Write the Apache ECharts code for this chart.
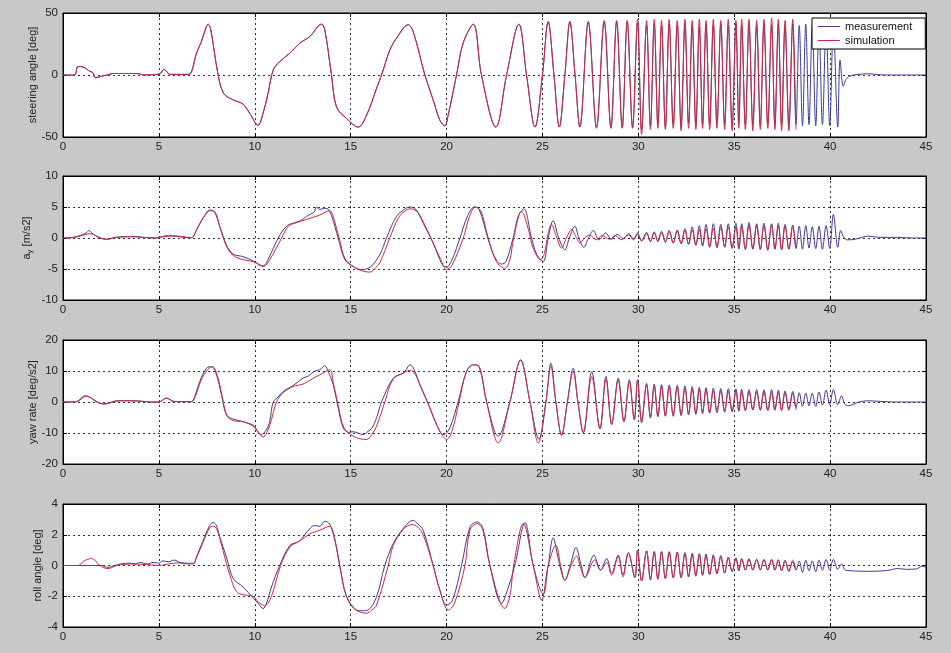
<!DOCTYPE html>
<html>
<head>
<meta charset="utf-8">
<script src="https://cdn.jsdelivr.net/npm/echarts@6/dist/echarts.min.js"></script>
<style>
html,body{margin:0;padding:0;background:#c8c8c8;}
#chart{width:951px;height:653px;}
</style>
</head>
<body>
<div id="chart"></div>
<script>
// ---------- DATA ----------
const xTicks = [0, 5, 10, 15, 20, 25, 30, 35, 40, 45];
const seriesNames = ['measurement', 'simulation'];
const yLabels = ['steering angle [deg]', 'a_y [m/s2]', 'yaw rate [deg/s2]', 'roll angle [deg]'];

// extremum times of the fast sweep part (peak, trough, peak, ...)
const hfT = [29.96,30.17,30.43,30.63,30.83,31.02,31.21,31.41,31.61,31.82,32.03,32.23,32.43,32.62,32.81,33.0,33.18,33.35,33.53,33.72,33.91,34.1,34.3,34.5,34.69,34.89,35.09,35.24,35.39,35.58,35.77,35.97,36.17,36.36,36.55,36.75,36.95,37.12,37.3,37.47,37.65,37.85,38.05,38.22,38.39,38.56,38.73,38.9,39.07,39.25,39.42,39.6,39.79,39.98,40.17,40.4];

// steering angle
const steerMeasLow = [[0,0],[0.6,0],[0.78,6.8],[1.04,6.5],[1.39,3],[1.55,2],[1.69,-2.2],[2.0,-1],[2.3,0],[2.6,1.2],[3.5,1.2],[4.0,1],[4.17,0],[4.9,0.5],[5.1,1.5],[5.25,4.5],[5.4,3],[5.57,0.5],[6.52,0.5],[6.7,2.5],[6.96,17.6],[7.22,27],[7.45,38],[7.57,41],[7.7,37],[8.09,0],[8.38,-14.9],[8.87,-20],[9.39,-23.5],[9.74,-31],[10.17,-40.5],[10.43,-31],[10.69,-15],[10.96,4],[11.3,10.8],[11.83,17.6],[12.35,25.7],[12.87,31],[13.48,41],[13.65,36.5],[14.0,0],[14.26,-25.7],[14.78,-35],[15.39,-42],[15.83,-32.4],[16.35,-10.8],[16.61,0],[17.04,20],[17.39,29.7],[18.0,40.5],[18.26,35],[18.87,0],[19.3,-20],[19.65,-36.5],[19.91,-41],[20.09,-32],[20.52,0],[20.87,26],[21.39,41],[21.82,0],[22.57,-42],[23.13,0],[23.77,41],[24.17,0],[24.61,-42],[25.0,0],[25.3,43],[25.6,0],[25.88,-42],[26.17,0],[26.43,43],[26.7,0],[26.95,-42],[27.39,43],[27.82,-42],[28.22,43],[28.57,-42],[28.87,43],[29.16,-42],[29.42,43],[29.7,-42]];
const steerSimLow = [[0,0],[0.6,0],[0.78,6.8],[1.04,6.5],[1.39,3],[1.55,2],[1.69,-2.2],[2.0,-1],[2.3,0],[2.6,1.2],[3.5,1.2],[4.0,1],[4.17,0],[4.9,0.5],[5.1,1.5],[5.25,4.5],[5.4,3],[5.57,0.5],[6.52,0.5],[6.7,2.5],[6.96,17.6],[7.22,27],[7.45,38],[7.57,41],[7.7,37],[8.09,0],[8.38,-14.9],[8.87,-20],[9.39,-23.5],[9.74,-31],[10.17,-40.5],[10.43,-31],[10.69,-15],[10.96,4],[11.3,10.8],[11.83,17.6],[12.35,25.7],[12.87,31],[13.48,41],[13.65,36.5],[14.0,0],[14.26,-25.7],[14.78,-35],[15.39,-42],[15.83,-32.4],[16.35,-10.8],[16.61,0],[17.04,20],[17.39,29.7],[18.0,40.5],[18.26,35],[18.87,0],[19.3,-20],[19.65,-36.5],[19.91,-41],[20.09,-32],[20.52,0],[20.87,26],[21.39,41],[21.82,0],[22.57,-42],[23.13,0],[23.77,41],[24.17,0],[24.61,-42],[25.0,0],[25.3,43],[25.6,0],[25.88,-42],[26.17,0],[26.43,43],[26.7,0],[26.95,-42],[27.39,43],[27.82,-43],[28.22,44],[28.57,-43],[28.87,44],[29.16,-43],[29.42,44],[29.7,-43]];
const steerMeasHF = [42,-44,40,-41,41,-40,40,-42,41,-40,40,-41,41,-39,40,-41,39,-40,41,-40,40,-39,41,-40,40,-41,41,-39,40,-40,41,-40,40,-41,41,-40,40,-41,41,-40,40,-40,41,-40,40,-41,41,-40,40,-41,40,-40,41,-41,40,-42];
const steerSimHF = [45,-48,44,-44,45,-43,44,-44,45,-43,44,-45,45,-43,44,-44,45,-43,44,-44,45,-43,44,-44,45,-45,44,-43,45,-44,45,-45,44,-44,45,-43,46,-44,45,-45,44,-45,45,-44];
const steerMeasTail = [[40.52,12],[40.69,-9],[40.85,-3],[41.1,-0.5],[41.5,0.5],[42,1],[42.5,0.3],[43,0],[45,0]];

// lateral acceleration a_y
const ayMeasLow = [[0,0],[0.5,0.1],[0.9,0.4],[1.2,0.8],[1.36,1.2],[1.5,0.8],[1.91,0],[2.3,-0.2],[2.7,0.1],[3.2,0.2],[3.8,0.25],[4.2,0.1],[4.8,0],[5.0,0.1],[5.5,0.4],[5.9,0.3],[6.3,0.1],[6.7,0.05],[6.96,1.3],[7.3,3.2],[7.65,4.5],[7.9,4.2],[8.17,1.9],[8.52,-1.1],[8.87,-2.6],[9.39,-3.0],[9.91,-3.7],[10.26,-4.3],[10.43,-4.5],[10.78,-2.9],[11.22,0],[11.65,1.9],[12.0,2.4],[12.4,2.8],[12.7,3.5],[13.1,4.2],[13.2,5.0],[13.4,4.6],[13.6,4.8],[13.8,4.7],[14.0,3.6],[14.35,0],[14.7,-3.5],[15.13,-4.6],[15.4,-5.0],[15.65,-5.1],[15.9,-4.9],[16.1,-4.5],[16.52,-2.7],[16.87,0],[17.39,3.5],[17.8,4.6],[18.09,5.0],[18.4,4.6],[18.78,2.4],[19.3,-0.8],[19.65,-3.5],[19.83,-4.5],[20.0,-4.7],[20.3,-3.4],[20.7,0],[21.1,3.6],[21.45,5.0],[21.7,4.6],[22.15,0],[22.5,-3],[22.87,-4.2],[23.1,-3.8],[23.47,0],[23.75,3.6],[24.03,4.7],[24.43,0],[24.7,-2.6],[25.04,-3.8],[25.3,0],[25.56,2.8],[25.85,0],[26.17,-1.9],[26.4,0],[26.69,1.9],[26.9,0],[27.16,-1.5],[27.4,0],[27.65,1.2],[27.95,-0.3],[28.3,0.8],[28.6,-0.2],[28.9,0.6],[29.2,-0.1],[29.5,0.7],[29.75,-0.2]];
const aySimLow = [[0,0],[0.5,0.05],[1.0,0.4],[1.4,0.7],[1.9,0.1],[2.3,-0.2],[2.8,0.1],[3.5,0.2],[4.2,0.1],[4.8,0],[5.5,0.3],[6.0,0.3],[6.7,0.05],[6.96,1.3],[7.3,3.2],[7.7,4.4],[7.95,4.1],[8.17,1.9],[8.52,-1.3],[8.87,-2.8],[9.39,-3.5],[9.91,-3.8],[10.26,-4.4],[10.45,-4.6],[10.78,-3.5],[11.4,0],[11.75,1.9],[12.1,2.4],[12.7,3.0],[13.39,3.7],[13.9,4.4],[14.05,3.8],[14.4,0],[14.7,-3.3],[15.13,-4.6],[15.6,-5.3],[16.0,-5.5],[16.3,-4.8],[16.52,-4],[17.04,0],[17.5,3.3],[17.9,4.5],[18.15,4.7],[18.5,4.1],[18.85,2.2],[19.3,-0.8],[19.7,-3.5],[20.0,-5.1],[20.3,-4.3],[20.87,0],[21.2,3.5],[21.5,5.0],[21.8,4.3],[22.17,0],[22.6,-3.8],[23.04,-4.9],[23.3,-3.5],[23.5,0],[23.91,4.3],[24.3,1.0],[24.5,-1.5],[24.9,-3.5],[25.1,-2.5],[25.3,0.8],[25.47,2.2],[25.7,0.5],[26.0,-1.6],[26.25,0],[26.52,1.35],[26.75,0.2],[26.95,-0.8],[27.2,0],[27.47,0.5],[27.8,-0.3],[28.1,0.4],[28.5,-0.2],[28.8,0.4],[29.1,-0.3],[29.5,0.5],[29.75,-0.3]];
const ayMeasHF = [0.8,-0.4,0.9,-0.6,1.0,-0.5,1.1,-0.7,1.2,-0.8,1.3,-0.9,1.5,-1.0,1.8,-1.2,2.0,-1.3,2.2,-1.5,2.3,-1.6,2.2,-1.5,2.3,-1.7,2.4,-1.8,2.3,-1.9,2.5,-1.8,2.3,-1.9,2.4,-2.0,2.3,-1.8,2.4,-1.9,2.2,-1.8,2.1,-1.7,1.9,-1.8,2.0,-1.6,1.8,-1.7,1.9,-1.8,2.0,-1.7,3.8,-1.5];
const aySimHF = [0.6,-0.5,0.7,-0.5,0.8,-0.6,0.9,-0.6,1.0,-0.8,1.1,-0.9,1.2,-1.0,1.3,-1.1,1.4,-1.2,1.5,-1.3,1.6,-1.4,1.7,-1.4,1.8,-1.5,1.8,-1.6,1.9,-1.7,2.0,-1.7,2.0,-1.8,2.0,-1.8,2.1,-1.8,2.0,-1.9,2.0,-1.8,1.9,-1.6];
const ayMeasTail = [[40.55,1.2],[40.7,0.2],[40.9,-0.3],[41.3,-0.2],[42,0.3],[42.6,0.1],[43.5,0.1],[44.3,0],[45,0]];

// yaw rate
const yawMeasLow = [[0,0],[0.7,0.1],[1.13,2.0],[1.4,1.6],[1.7,0.2],[2.09,-0.6],[2.4,-0.3],[2.8,0.4],[3.5,0.4],[4.0,0.3],[4.5,0],[5.0,0],[5.39,1.3],[5.8,0.2],[6.7,0.1],[6.87,1.8],[7.13,6.6],[7.48,10.9],[7.74,11.4],[8.0,8.8],[8.26,2.4],[8.52,-4.1],[8.87,-5.5],[9.2,-6.0],[9.39,-6.4],[9.91,-7.5],[10.35,-10.5],[10.6,-9],[10.78,-6.2],[10.96,0],[11.2,1.5],[11.48,3.4],[12.0,5.3],[12.52,7.7],[12.8,8.4],[13.1,9.9],[13.39,10.4],[13.65,11.7],[13.85,9.5],[14.09,5.6],[14.35,-1.9],[14.61,-8.3],[14.9,-9.8],[15.13,-9.6],[15.65,-10.5],[15.9,-9.5],[16.1,-8.5],[16.35,-5.1],[16.61,0],[17.22,7.7],[17.74,9.3],[17.9,10.5],[18.09,12],[18.3,10.5],[18.61,5.6],[19.13,-1.9],[19.48,-7.3],[19.83,-10.5],[20.0,-10.0],[20.2,-8],[20.6,0],[21.04,9.8],[21.39,12],[21.7,11.5],[22.09,0],[22.69,-11],[23.3,0],[23.86,13.6],[24.35,0],[24.82,-12],[25.18,0],[25.44,12.5],[25.7,0],[26.0,-10.7],[26.3,0],[26.6,10.9],[26.85,0],[27.13,-9.9],[27.57,9.8],[28.0,-8.6],[28.31,8.2],[28.61,-7.3],[28.95,7.7],[29.25,-6.4],[29.53,7.2],[29.79,-5.7]];
const yawSimLow = [[0,0],[0.7,0.1],[1.2,1.8],[1.5,1.2],[1.8,0],[2.15,-0.7],[2.5,-0.2],[2.8,0.3],[3.5,0.4],[4.2,0.2],[4.6,0],[5.0,0],[5.39,1.2],[5.8,0.1],[6.7,0.1],[6.9,1.8],[7.2,7],[7.55,10.5],[7.8,11.4],[8.05,8.5],[8.3,1.8],[8.55,-4.5],[8.87,-6.0],[9.39,-6.4],[9.91,-7.8],[10.2,-10],[10.43,-11.3],[10.78,-7.5],[11.13,0],[11.48,3.0],[12.0,5.0],[12.52,5.8],[13.0,7.5],[13.39,8.8],[13.91,10.4],[14.1,6.0],[14.4,-2.5],[14.65,-8.3],[15.13,-11],[15.5,-11.9],[15.83,-12.1],[16.1,-10.5],[16.35,-7.8],[16.78,0],[17.22,7.5],[17.74,9.3],[18.05,10.2],[18.3,9.6],[18.65,5.0],[19.13,-1.9],[19.5,-7.5],[19.8,-11],[20.0,-12.1],[20.3,-9],[20.65,0],[21.04,9.8],[21.39,12],[21.7,11.3],[22.09,0],[22.69,-13.2],[23.3,0],[23.86,13.4],[24.35,0],[24.78,-13.2],[25.18,0],[25.44,11.5],[25.7,0],[26.0,-10.7],[26.3,0],[26.6,9.8],[26.85,0],[27.13,-9.9],[27.57,8.2],[28.0,-8.6],[28.31,7.5],[28.61,-7.0],[28.95,7.0],[29.25,-6.2],[29.53,6.5],[29.79,-5.7]];
const yawMeasHF = [7.2,-6.7,6.0,-5.2,5.8,-4.8,5.6,-4.6,5.5,-4.6,5.4,-4.4,5.2,-4.2,5.0,-4.0,4.8,-3.8,4.6,-3.6,4.5,-3.5,4.4,-3.3,4.3,-3.2,4.2,-3.0,4.1,-2.8,4.0,-2.6,4.0,-2.5,3.9,-2.5,4.0,-2.4,3.8,-2.5,3.6,-2.3,3.4,-1.8,3.0,-1.4,2.9,-1.2,2.8,-1.4,3.2,-1.0,3.8,-0.8,4.0,-0.9];
const yawSimHF = [7.0,-6.0,5.5,-4.8,5.2,-4.5,5.0,-4.3,4.9,-4.2,4.7,-4.0,4.5,-3.8,4.3,-3.6,4.1,-3.4,3.9,-3.2,3.7,-3.0,3.6,-2.9,3.5,-2.8,3.4,-2.7,3.3,-2.7,3.3,-2.6,3.2,-2.7,3.2,-2.8,3.1,-2.7,3.0,-2.8,3.0,-2.7,2.9,-2.6];
const yawMeasTail = [[40.6,2],[40.75,-0.5],[40.95,-1.2],[41.2,-0.8],[41.5,0],[42,0.4],[42.6,0.2],[43.5,0],[45,0]];

// roll angle
const rollMeasLow = [[0,0],[2.0,0],[2.35,-0.12],[2.7,0],[3.0,0.1],[3.5,0.15],[3.8,0.1],[4.0,0.2],[4.4,0.1],[4.7,0.2],[5.0,0.15],[5.2,0.3],[5.5,0.25],[5.8,0.35],[6.1,0.2],[6.5,0.15],[6.8,0.15],[6.96,0.56],[7.3,1.6],[7.65,2.6],[7.83,2.8],[8.0,2.6],[8.17,1.86],[8.52,0.56],[8.87,-0.84],[9.39,-1.4],[9.91,-2.1],[10.2,-2.5],[10.43,-2.8],[10.6,-2.5],[10.87,-1.4],[11.3,0],[11.83,1.3],[12.35,1.6],[12.6,2.0],[12.87,2.4],[13.1,2.6],[13.39,2.55],[13.65,2.88],[13.9,2.7],[14.1,2.0],[14.26,1.2],[14.43,0],[14.78,-2.0],[15.3,-2.9],[15.65,-2.94],[15.9,-2.9],[16.35,-2.03],[16.78,0],[17.22,1.43],[17.74,2.4],[18.26,2.94],[18.5,2.7],[18.78,2.3],[19.3,0],[19.65,-1.6],[20.0,-2.57],[20.3,-2.3],[20.78,0],[21.22,2.5],[21.6,2.83],[21.9,2.4],[22.26,0],[22.87,-2.46],[23.2,-1.5],[23.56,0],[24.09,2.79],[24.52,0],[25.04,-1.86],[25.3,0],[25.56,1.8],[25.85,0.3],[26.17,-0.95],[26.45,0],[26.75,1.17],[27.0,0.1],[27.21,-0.78],[27.68,0.67],[28.03,-0.3],[28.35,0.45],[28.61,-0.5],[28.95,0.67],[29.2,-0.6],[29.48,0.84],[29.82,-0.78]];
const rollSimLow = [[0,0],[0.78,0],[1.1,0.3],[1.48,0.45],[1.7,0.3],[1.91,0],[2.35,-0.2],[2.7,-0.05],[3.0,0.05],[3.5,0.1],[4.5,0.05],[5.0,0],[5.5,0.1],[6.0,0.17],[6.5,0.1],[6.8,0.1],[6.96,0.5],[7.3,1.5],[7.65,2.45],[7.83,2.55],[8.0,2.4],[8.17,1.8],[8.52,0.13],[8.7,-0.63],[9.04,-1.7],[9.39,-1.9],[9.91,-2.0],[10.2,-2.4],[10.52,-2.6],[10.87,-2.0],[11.35,0],[11.83,1.2],[12.35,1.6],[12.87,2.06],[13.39,2.3],[13.91,2.55],[14.1,2.1],[14.43,0],[14.78,-2.0],[15.3,-2.9],[15.83,-3.1],[16.1,-2.9],[16.35,-2.57],[16.96,0],[17.22,1.3],[17.74,2.35],[18.2,2.66],[18.5,2.5],[18.78,2.0],[19.3,0],[19.65,-1.6],[20.09,-2.9],[20.4,-2.5],[20.96,0],[21.22,2.3],[21.6,2.72],[21.9,2.3],[22.26,0],[23.04,-2.79],[23.3,-2.0],[23.5,0],[24.0,2.72],[24.52,0],[24.96,-2.25],[25.3,0],[25.7,1.32],[25.95,0],[26.17,-0.95],[26.5,0],[26.78,0.6],[27.0,-0.2],[27.21,-0.78],[27.72,0.35],[28.03,-0.3],[28.35,0.2],[28.61,-0.63],[28.95,0.6],[29.2,-0.73],[29.48,0.8],[29.82,-0.78]];
const rollMeasHF = [1.0,-1.0,0.95,-0.9,0.9,-0.85,0.9,-0.85,0.9,-0.8,0.88,-0.8,0.85,-0.75,0.8,-0.7,0.78,-0.65,0.75,-0.6,0.7,-0.55,0.65,-0.5,0.55,-0.4,0.5,-0.35,0.45,-0.3,0.45,-0.3,0.4,-0.3,0.4,-0.28,0.38,-0.3,0.35,-0.35,0.3,-0.4,0.25,-0.3,0.3,-0.45,0.35,-0.35,0.3,-0.4,0.35,-0.3,0.4,-0.3,0.4,-0.25];
const rollSimHF = [1.0,-1.0,0.95,-0.95,0.9,-0.9,0.9,-0.85,0.88,-0.8,0.85,-0.78,0.8,-0.72,0.75,-0.65,0.7,-0.6,0.65,-0.55,0.6,-0.5,0.55,-0.45,0.5,-0.38,0.45,-0.32,0.42,-0.3,0.4,-0.28,0.4,-0.28,0.38,-0.3,0.4,-0.3,0.38,-0.32,0.36,-0.3,0.35,-0.3];
const rollMeasTail = [[40.6,0.1],[40.8,-0.3],[41.2,-0.35],[42,-0.38],[43,-0.32],[43.5,-0.2],[44,-0.25],[44.5,-0.22],[44.8,-0.05],[45,-0.12]];

const yRanges = [[-50, 50, 50], [-10, 10, 5], [-20, 20, 10], [-4, 4, 2]];

// ---------- BUILD ----------
function zipHF(vals) { return vals.map((v, i) => [hfT[i], v]); }
const measData = [
  steerMeasLow.concat(zipHF(steerMeasHF), steerMeasTail),
  ayMeasLow.concat(zipHF(ayMeasHF), ayMeasTail),
  yawMeasLow.concat(zipHF(yawMeasHF), yawMeasTail),
  rollMeasLow.concat(zipHF(rollMeasHF), rollMeasTail)
];
const simData = [
  steerSimLow.concat(zipHF(steerSimHF)),
  aySimLow.concat(zipHF(aySimHF)),
  yawSimLow.concat(zipHF(yawSimHF)),
  rollSimLow.concat(zipHF(rollSimHF))
];

const BLUE = '#3c3c98';
const RED = '#d0283e';
const FONT = 'Liberation Sans, Arial, sans-serif';
const gridTops = [13, 176, 340, 504];
const gridHeights = [124, 124, 124, 123];
const nameGaps = [25, 29, 25, 20];

const grids = [], xAxes = [], yAxes = [], series = [];
const dash = { color: '#333', type: [2, 3], width: 1 };

for (let p = 0; p < 4; p++) {
  grids.push({ left: 63, top: gridTops[p], width: 863, height: gridHeights[p],
    show: true, backgroundColor: '#ffffff', borderColor: '#000', borderWidth: 1, containLabel: false });
  const xCommon = { gridIndex: p, type: 'value', min: xTicks[0], max: xTicks[xTicks.length - 1], interval: 5,
    axisLine: { show: true, onZero: false, lineStyle: { color: '#000', width: 1 } },
    axisTick: { show: true, inside: true, length: 4, lineStyle: { color: '#000' } } };
  xAxes.push(Object.assign({}, xCommon, { position: 'bottom',
    axisLabel: { show: true, color: '#222', fontSize: 11.5, fontFamily: FONT, margin: 4 },
    splitLine: { show: true, lineStyle: dash } }));
  xAxes.push(Object.assign({}, xCommon, { position: 'top', axisLabel: { show: false }, splitLine: { show: false } }));

  const [ymin, ymax, yint] = yRanges[p];
  const yCommon = { gridIndex: p, type: 'value', min: ymin, max: ymax, interval: yint,
    axisLine: { show: true, onZero: false, lineStyle: { color: '#000', width: 1 } },
    axisTick: { show: true, inside: true, length: 4, lineStyle: { color: '#000' } } };
  let yName = yLabels[p];
  let rich = {};
  if (p === 1) {
    yName = '{a|a}{s|y}{a| [m/s2]}';
    rich = { a: { fontSize: 11, lineHeight: 14, fontFamily: FONT, color: '#222' },
             s: { fontSize: 8, lineHeight: 8, fontFamily: FONT, color: '#222', verticalAlign: 'bottom' } };
  }
  yAxes.push(Object.assign({}, yCommon, { position: 'left',
    name: yName, nameLocation: 'middle', nameRotate: 90, nameGap: nameGaps[p], nameMoveOverlap: false,
    nameTextStyle: { fontSize: 11, fontFamily: FONT, color: '#222', rich: rich },
    axisLabel: { show: true, color: '#222', fontSize: 11.5, fontFamily: FONT, margin: 5 },
    splitLine: { show: true, lineStyle: dash } }));
  yAxes.push(Object.assign({}, yCommon, { position: 'right', axisLabel: { show: false }, splitLine: { show: false } }));

  series.push({ name: seriesNames[0], type: 'line', xAxisIndex: 2 * p, yAxisIndex: 2 * p,
    data: measData[p], showSymbol: false, symbol: 'none', smooth: 0.35,
    lineStyle: { color: BLUE, width: 1 }, itemStyle: { color: BLUE }, z: 2 });
  series.push({ name: seriesNames[1], type: 'line', xAxisIndex: 2 * p, yAxisIndex: 2 * p,
    data: simData[p], showSymbol: false, symbol: 'none', smooth: 0.35,
    lineStyle: { color: RED, width: 1 }, itemStyle: { color: RED }, z: 3 });
}

const chart = echarts.init(document.getElementById('chart'), null, { renderer: 'canvas' });
chart.setOption({
  backgroundColor: '#c8c8c8',
  animation: false,
  textStyle: { fontFamily: FONT },
  grid: grids,
  xAxis: xAxes,
  yAxis: yAxes,
  legend: {
    data: seriesNames, orient: 'vertical', left: 812, top: 18,
    icon: 'rect', itemWidth: 22, itemHeight: 1, itemGap: 1,
    padding: [2, 13, 2, 6], backgroundColor: '#ffffff', borderColor: '#000', borderWidth: 1, borderRadius: 0,
    textStyle: { fontSize: 11, lineHeight: 13, color: '#111', fontFamily: FONT }
  },
  series: series
});
</script>
</body>
</html>
